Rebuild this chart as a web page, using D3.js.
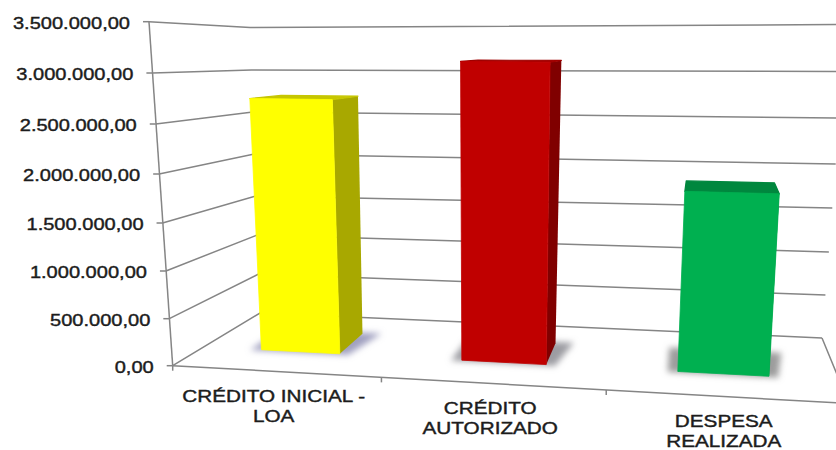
<!DOCTYPE html>
<html>
<head>
<meta charset="utf-8">
<script src="https://cdn.jsdelivr.net/npm/d3@7/dist/d3.min.js"></script>
<style>
  html, body { margin: 0; padding: 0; background: #fff; }
  svg { display: block; }
  text { font-family: "Liberation Sans", Arial, sans-serif; fill: #1c1c1c; stroke: #1c1c1c; stroke-width: 0.4; }
</style>
</head>
<body>
<svg id="chart" width="836" height="450"></svg>
<script>
// Budget execution figures
const categories = ["CRÉDITO INICIAL -|LOA", "CRÉDITO|AUTORIZADO", "DESPESA|REALIZADA"];
const values = [2730000, 3130000, 1870000];
const tickValues = [0, 500000, 1000000, 1500000, 2000000, 2500000, 3000000, 3500000];
const tickLabels = ["0,00", "500.000,00", "1.000.000,00", "1.500.000,00", "2.000.000,00", "2.500.000,00", "3.000.000,00", "3.500.000,00"];

const barFront = ["#ffff00", "#c00000", "#00b050"];
const barSide = ["#a8a800", "#800000", "#007a38"];
const barTop = ["#c6c600", "#a00000", "#00873e"];
const shadowFill = ["#a0a0c0", "#9c9ca2", "#9c9c9c"];

const maxValue = tickValues[tickValues.length - 1];
const svg = d3.select("#chart");

// The 3D box is described by its four vertical edges, each with its own value scale.
const edge = (yRange, xRange) => ({
  y: d3.scaleLinear().domain(tickValues).range(yRange),
  x: d3.scaleLinear().domain([0, maxValue]).range(xRange)
});
const frontLeft = edge([365.7, 318.7, 271, 223, 174, 124, 73, 21.7], [172.7, 149]);
const backLeft = edge([313, 274, 235, 196, 154, 112, 70, 27.5], [260, 250]);
const backRight = edge([338, 295, 252, 208, 164, 118, 71.5, 24.5], [822, 846]);
const frontRight = edge([403.5, 352, 299.5, 246.8, 193, 138, 82, 25.8], [849, 873]);

// Projects (across 0..1, depth 0..1, value) to a pixel by blending the four edges.
function project(u, d, v) {
  const mix = (a, b, c, e) =>
    (1 - d) * ((1 - u) * a + u * e) + d * ((1 - u) * b + u * c);
  return [
    mix(frontLeft.x(v), backLeft.x(v), backRight.x(v), frontRight.x(v)),
    mix(frontLeft.y(v), backLeft.y(v), backRight.y(v), frontRight.y(v))
  ];
}

// Categories get equal slots, foreshortened towards the far side of the floor.
const foreshorten = t => t / (1.12 + (1 - 1.12) * t);
const band = d3.scaleBand().domain(categories).range([0, 1]).paddingInner(0.6).paddingOuter(0.3);
const slotEdges = [0, 1 / 3, 2 / 3, 1];
const depthFront = 0.36, depthBack = 0.72;

const poly = d3.line();
const closed = pts => poly(pts) + "Z";

const defs = svg.append("defs");
defs.append("filter").attr("id", "floorShadow")
  .attr("x", "-30%").attr("y", "-60%").attr("width", "160%").attr("height", "220%")
  .append("feGaussianBlur").attr("stdDeviation", 3);

const gridColor = "#858585";

// Walls: each gridline runs along the side wall, then along the back wall
svg.append("g").selectAll("path").data(tickValues).join("path")
  .attr("d", v => poly([project(0, 0, v), project(0, 1, v), project(1, 1, v)]))
  .attr("fill", "none").attr("stroke", gridColor).attr("stroke-width", 1.5);

// Vertical value axis with outward ticks
svg.append("path")
  .attr("d", poly([project(0, 0, 0), project(0, 0, maxValue)]))
  .attr("fill", "none").attr("stroke", gridColor).attr("stroke-width", 1.5);
svg.append("g").selectAll("line").data(tickValues).join("line")
  .attr("x1", v => frontLeft.x(v) - 6).attr("x2", v => frontLeft.x(v))
  .attr("y1", v => frontLeft.y(v)).attr("y2", v => frontLeft.y(v))
  .attr("stroke", gridColor).attr("stroke-width", 1.5);

// Floor: front edge, far right edge and the category separators
svg.append("path")
  .attr("d", poly([project(0, 0, 0), project(1, 0, 0), project(1, 1, 0)]))
  .attr("fill", "none").attr("stroke", gridColor).attr("stroke-width", 1.5);
svg.append("g").selectAll("line").data(slotEdges).join("line")
  .each(function (t) {
    const [x, y] = project(foreshorten(t), 0, 0);
    d3.select(this).attr("x1", x).attr("x2", x).attr("y1", y).attr("y2", y + 5);
  })
  .attr("stroke", gridColor).attr("stroke-width", 1.5);

// Bars: soft floor shadow, then side, top and front faces
const bars = svg.append("g").selectAll("g").data(categories).join("g");
bars.each(function (c, i) {
  const g = d3.select(this);
  const u0 = foreshorten(band(c));
  const u1 = foreshorten(band(c) + band.bandwidth());
  const v = values[i];
  const P = (u, d, val) => project(u, d, val);

  g.append("path")
    .attr("d", closed([P(u0 - 0.016, depthFront - 0.015, 0), P(u1 + 0.014, depthFront - 0.015, 0),
                       P(u1 + 0.03, depthBack + 0.02, 0), P(u0 - 0.016, depthBack + 0.02, 0)]))
    .attr("fill", shadowFill[i]).attr("filter", "url(#floorShadow)");

  g.append("path")
    .attr("d", closed([P(u1, depthFront, 0), P(u1, depthBack, 0), P(u1, depthBack, v), P(u1, depthFront, v)]))
    .attr("fill", barSide[i]);

  g.append("path")
    .attr("d", closed([P(u0, depthFront, v), P(u1, depthFront, v), P(u1, depthBack, v), P(u0, depthBack, v)]))
    .attr("fill", barTop[i]).attr("stroke", barTop[i]).attr("stroke-width", 1.2).attr("stroke-linejoin", "round");

  g.append("path")
    .attr("d", closed([P(u0, depthFront, 0), P(u1, depthFront, 0), P(u1, depthFront, v), P(u0, depthFront, v)]))
    .attr("fill", barFront[i]).attr("stroke", barFront[i]).attr("stroke-width", 0.8).attr("stroke-linejoin", "round");
});

const fontSize = 16.3;

// Value axis labels
svg.append("g").selectAll("text").data(tickValues).join("text")
  .attr("transform", v => `translate(${frontLeft.x(v) - 19},${frontLeft.y(v) + 1.5}) scale(1.23,1)`)
  .attr("text-anchor", "end").attr("dy", "0.36em").attr("font-size", fontSize)
  .text((v, i) => tickLabels[i]);

// Category labels, two lines each, following the slope of the front edge
svg.append("g").selectAll("g").data(categories).join("g")
  .each(function (c) {
    const [x, y] = project(foreshorten(band(c) + band.bandwidth() / 2), 0, 0);
    d3.select(this).selectAll("text").data(c.split("|")).join("text")
      .attr("transform", (line, j) => `translate(${x - 1.5},${y + 24.8 + j * 20}) scale(1.27,1)`)
      .attr("text-anchor", "middle").attr("dy", "0.36em").attr("font-size", fontSize)
      .text(line => line);
  });
</script>
</body>
</html>
